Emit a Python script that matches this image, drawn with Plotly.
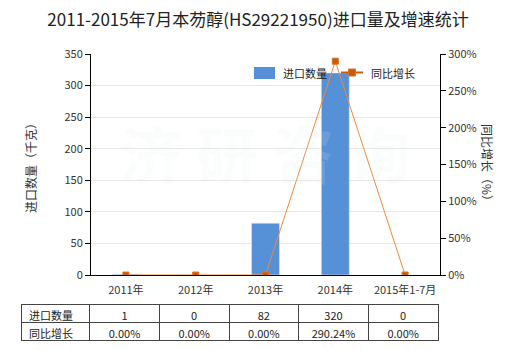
import plotly.graph_objects as go

categories = ["2011年", "2012年", "2013年", "2014年", "2015年1-7月"]
import_qty = [1, 0, 82, 320, 0]
growth_pct = [0, 0, 0, 290.24, 0]
qty_labels = ["1", "0", "82", "320", "0"]
growth_labels = ["0.00%", "0.00%", "0.00%", "290.24%", "0.00%"]
row_names = ["进口数量", "同比增长"]

FONT = "Noto Sans CJK SC"
BAR_C = "#5690D6"
LINE_C = "#F0883A"
MARK_C = "#C85A10"
W, H = 520, 350
ml, mr, mt, mb = 21, 80, 54, 8
pw = W - ml - mr
ph = H - mt - mb
def px(x): return (x - ml) / pw
def py(y): return (H - mb - y) / ph

fig = go.Figure()
fig.add_trace(go.Bar(x=categories, y=import_qty, name=row_names[0], marker_color=BAR_C,
                     width=0.4, yaxis="y", showlegend=False))
fig.add_trace(go.Scatter(x=categories, y=growth_pct, name=row_names[1], yaxis="y2",
                         mode="lines+markers", showlegend=False,
                         line=dict(color=LINE_C, width=1),
                         marker=dict(symbol="square", size=6, color=MARK_C,
                                     line=dict(color="#E07020", width=1))))

fig.add_trace(go.Table(
    domain=dict(x=[0, px(438)], y=[py(341), py(304)]),
    columnwidth=[69, 70, 70, 70, 70, 70],
    header=dict(values=[row_names[0]] + qty_labels,
                align=["left"] + ["center"] * 5,
                height=18, line=dict(color="#444", width=1),
                fill=dict(color="white"), font=dict(family=FONT, size=11, color="#222")),
    cells=dict(values=[[row_names[1]]] + [[g] for g in growth_labels],
               align=["left"] + ["center"] * 5,
               height=18, line=dict(color="#444", width=1),
               fill=dict(color="white"), font=dict(family=FONT, size=11, color="#222")),
))

axis_common = dict(showline=True, linecolor="#000", linewidth=1, ticks="outside",
                   ticklen=5, tickcolor="#000", automargin=False,
                   tickfont=dict(family=FONT, size=11, color="#333"))

shapes = [
    dict(type="rect", xref="paper", yref="paper", x0=px(254), x1=px(275), y0=py(79), y1=py(67),
         fillcolor=BAR_C, line=dict(width=0)),
    dict(type="line", xref="paper", yref="paper", x0=px(341), x1=px(363), y0=py(72.5), y1=py(72.5),
         line=dict(color="#C85A10", width=2)),
    dict(type="rect", xref="paper", yref="paper", x0=px(348.5), x1=px(355.5), y0=py(76), y1=py(69),
         fillcolor=MARK_C, line=dict(color="#E07020", width=1)),
]

def ann(text, x, y, **kw):
    d = dict(text=text, x=px(x), y=py(y), xref="paper", yref="paper", showarrow=False,
             xanchor="center", yanchor="middle")
    d.update(kw)
    return d

fig.update_layout(
    width=W, height=H, margin=dict(l=ml, r=mr, t=mt, b=mb, autoexpand=False),
    plot_bgcolor="white", paper_bgcolor="white",
    font=dict(family=FONT, size=11, color="#333"),
    title=dict(text="2011-2015年7月本芴醇(HS29221950)进口量及增速统计",
               x=258 / W, xref="container", xanchor="center", y=1 - 20 / H, yref="container",
               yanchor="middle", font=dict(family=FONT, size=17, color="#222")),
    xaxis=dict(domain=[px(91), 1], anchor="y", showline=True, linecolor="#000",
               automargin=False, ticks="", ticklabelstandoff=5,
               tickfont=dict(family=FONT, size=11, color="#333"), showgrid=False),
    yaxis=dict(domain=[py(275), 1], range=[0, 350], dtick=50, showgrid=True,
               gridcolor="#E6E6E6", zeroline=False, **axis_common),
    yaxis2=dict(overlaying="y", side="right", anchor="x", range=[0, 300], dtick=50,
                ticksuffix="%", showgrid=False, zeroline=False, **axis_common),
    bargap=0.6,
    showlegend=False,
    shapes=shapes,
    annotations=[
        ann(row_names[0], 281, 73, xanchor="left", font=dict(family=FONT, size=11, color="#222")),
        ann(row_names[1], 369, 73, xanchor="left", font=dict(family=FONT, size=11, color="#222")),
        ann("进口数量（千克）", 30, 165, textangle=-90, font=dict(family=FONT, size=12, color="#333")),
        ann("同比增长（%）", 488, 165, textangle=90, font=dict(family=FONT, size=12, color="#333")),
        ann("<b>济 研 咨 询</b>", 265, 152,
            font=dict(family=FONT, size=62, color="rgba(225,232,232,0.15)")),
    ],
)
fig.write_html("out.html")
